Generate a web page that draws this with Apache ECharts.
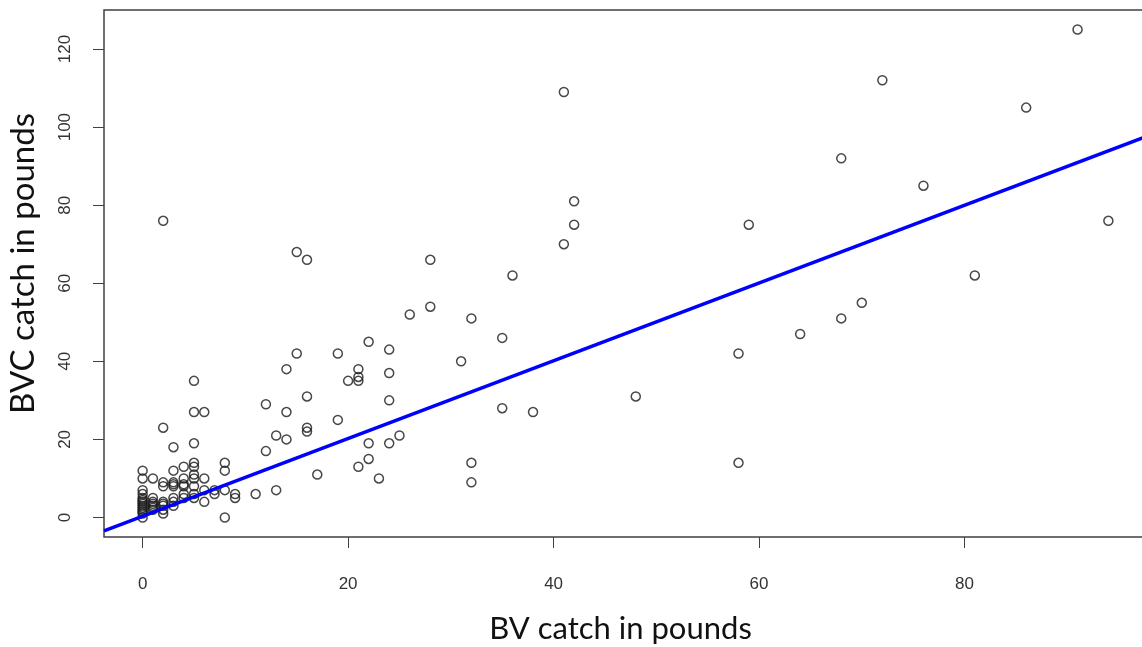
<!DOCTYPE html>
<html>
<head>
<meta charset="utf-8">
<title>BVC vs BV catch</title>
<script src="https://cdn.jsdelivr.net/npm/echarts@6/dist/echarts.min.js"></script>
<style>
  html, body { margin: 0; padding: 0; background: #fff; }
  #myChart { width: 1142px; height: 647px; }
</style>
</head>
<body>
<div id="myChart"></div>
<script>
  // BV catch (x) and BVC catch (y), pounds
  var bvCatch = [
    0, 0, 0, 0, 0, 0, 0, 0, 0, 0, 0, 0, 0, 0,
    1, 1, 1, 1, 1, 1, 1,
    2, 2, 2, 2, 2, 2, 2, 2, 2,
    3, 3, 3, 3, 3, 3, 3, 3,
    4, 4, 4, 4, 4, 4,
    5, 5, 5, 5, 5, 5, 5, 5, 5, 5,
    6, 6, 6, 6,
    7, 7,
    8, 8, 8, 8,
    9, 9,
    11,
    12, 12,
    13, 13,
    14, 14, 14,
    15, 15,
    16, 16, 16, 16,
    17,
    19, 19,
    20,
    21, 21, 21, 21,
    22, 22, 22,
    23,
    24, 24, 24, 24,
    25,
    26,
    28, 28,
    31,
    32, 32, 32,
    35, 35,
    36,
    38,
    41, 41,
    42, 42,
    48,
    58, 58,
    59,
    64,
    68, 68,
    70,
    72,
    76,
    81,
    86,
    91,
    94
  ]
  var bvcCatch = [
    0, 1, 2, 3, 4, 5, 6, 7, 10, 12, 1.5, 2.5, 3.5, 4.5,
    3, 4, 5, 2, 10, 2.5, 3.5,
    1, 2, 3, 4, 8, 9, 23, 76, 3.5,
    3, 5, 8, 9, 12, 18, 4, 8.5,
    6, 8, 10, 5, 13, 8.5,
    6, 8, 10, 11, 13, 14, 19, 27, 35, 5,
    4, 7, 10, 27,
    6, 7,
    0, 7, 12, 14,
    5, 6,
    6,
    17, 29,
    7, 21,
    20, 27, 38,
    42, 68,
    22, 23, 31, 66,
    11,
    25, 42,
    35,
    13, 35, 36, 38,
    15, 19, 45,
    10,
    19, 30, 37, 43,
    21,
    52,
    54, 66,
    40,
    9, 14, 51,
    28, 46,
    62,
    27,
    70, 109,
    75, 81,
    31,
    14, 42,
    75,
    47,
    51, 92,
    55,
    112,
    85,
    62,
    105,
    125,
    76
  ]

  // fitted line y = a + b x
  var fitIntercept = 0.3
  var fitSlope = 0.996

  var xTicks = [0, 20, 40, 60, 80]
  var yTicks = [0, 20, 40, 60, 80, 100, 120]
  var xMin = -3.76, xMax = 97.76
  var yMin = -5, yMax = 130

  var points = []
  for (var i = 0; i < bvCatch.length; i++) {
    points.push([bvCatch[i], bvcCatch[i]])
  }
  var fitLine = [
    [xMin, fitIntercept + fitSlope * xMin],
    [xMax, fitIntercept + fitSlope * xMax]
  ]

  var myChart = echarts.init(document.getElementById('myChart'))
  var tickFont = { fontFamily: 'Liberation Sans', fontSize: 17, color: '#333' }
  var option = {
    animation: false,
    backgroundColor: '#fff',
    grid: {
      left: 104,
      right: -5,
      top: 10,
      bottom: 110,
      outerBoundsMode: 'none',
      show: true,
      borderColor: '#404040',
      borderWidth: 1.5
    },
    xAxis: {
      type: 'value',
      min: xMin,
      max: xMax,
      name: 'BV catch in pounds',
      nameLocation: 'middle',
      nameGap: 76,
      nameTextStyle: { fontFamily: 'Lato', fontSize: 31, color: '#111', padding: [0, 10, 0, 0] },
      axisLine: { show: false, onZero: false },
      splitLine: { show: false },
      axisTick: {
        show: true,
        length: 11,
        customValues: xTicks,
        lineStyle: { color: '#404040', width: 1 }
      },
      axisLabel: Object.assign({ customValues: xTicks, margin: 39 }, tickFont)
    },
    yAxis: {
      type: 'value',
      min: yMin,
      max: yMax,
      name: 'BVC catch in pounds',
      nameLocation: 'middle',
      nameGap: 64,
      // shift the title a little up
      nameTextStyle: { fontFamily: 'Lato', fontSize: 33, color: '#111', padding: [0, 0, 0, 20] },
      axisLine: { show: false, onZero: false },
      splitLine: { show: false },
      axisTick: {
        show: true,
        length: 11,
        customValues: yTicks,
        lineStyle: { color: '#404040', width: 1 }
      },
      axisLabel: Object.assign({ customValues: yTicks, margin: 30, rotate: 90 }, tickFont)
    },
    series: [{
        name: 'catch',
        type: 'scatter',
        data: points,
        symbol: 'circle',
        symbolSize: 9,
        itemStyle: {
          color: 'rgba(0,0,0,0)',
          borderColor: '#1a1a1a',
          borderWidth: 1.5
        }
      },
      {
        name: 'fit',
        type: 'line',
        data: fitLine,
        symbol: 'none',
        z: 3,
        lineStyle: { color: '#0000ff', width: 3.5 }
      }
    ]
  }

  myChart.setOption(option)
</script>
</body>
</html>
